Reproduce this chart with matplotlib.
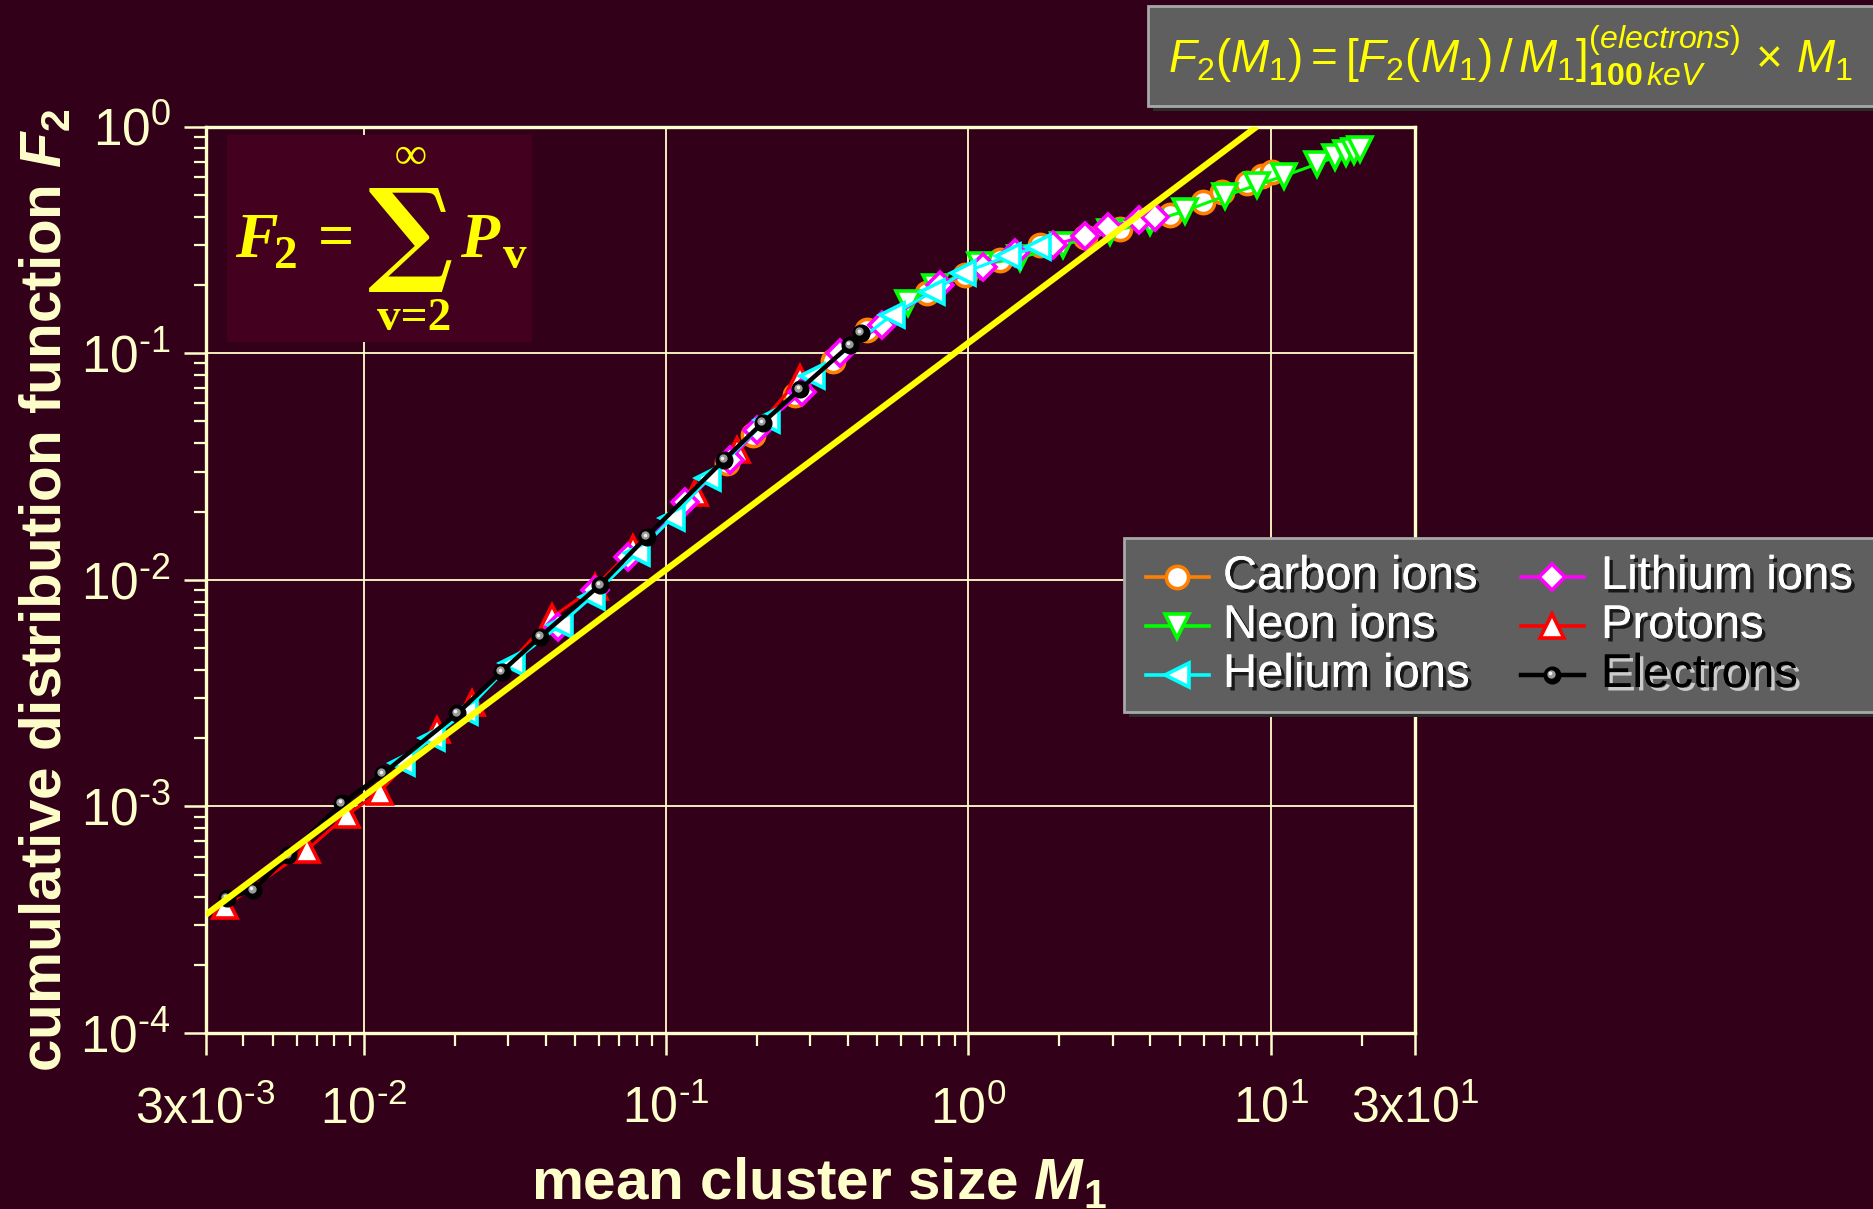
import matplotlib
matplotlib.use("Agg")
import matplotlib.pyplot as plt
import matplotlib.patheffects as pe
from matplotlib.patches import Rectangle
from matplotlib.transforms import offset_copy
from matplotlib.ticker import LogLocator, NullFormatter
import numpy as np

BG = "#33001A"
INSET_BG = "#44001F"
CREAM = "#FFFFCC"
YELLOW = "#FFFF00"
BOX = "#5F5F5F"

plt.rcParams["font.family"] = ["Liberation Sans", "DejaVu Sans"]
plt.rcParams["mathtext.fontset"] = "custom"
plt.rcParams["mathtext.rm"] = "Liberation Sans"
plt.rcParams["mathtext.it"] = "Liberation Sans:italic"
plt.rcParams["mathtext.bf"] = "Liberation Sans:bold"
plt.rcParams["mathtext.bfit"] = "Liberation Sans:italic:bold"

# F2 vs M1 for the different radiation qualities
carbon_x = [0.159, 0.194, 0.267, 0.357, 0.462, 0.730, 0.974, 1.272, 1.725, 2.43, 3.17, 4.64, 5.97, 6.90, 8.35, 9.36, 10.1]
carbon_y = [0.0327, 0.0435, 0.0653, 0.0923, 0.1264, 0.1841, 0.2212, 0.2576, 0.2999, 0.3254, 0.3529, 0.4069, 0.4642, 0.514, 0.563, 0.6047, 0.63]

neon_x = [0.631, 0.775, 1.092, 1.48, 2.054, 2.938, 3.985, 5.20, 7.056, 9.00, 11.06, 14.22, 16.31, 17.73, 18.84, 19.72]
neon_y = [0.1664, 0.1957, 0.2447, 0.2629, 0.2999, 0.3423, 0.379, 0.4238, 0.4935, 0.5518, 0.6047, 0.683, 0.7334, 0.764, 0.78, 0.7957]

protons_x = [3.48e-3, 6.48e-3, 8.79e-3, 1.132e-2, 1.743e-2, 2.28e-2, 4.20e-2, 5.82e-2, 7.78e-2, 0.1247, 0.1717, 0.277]
protons_y = [3.63e-4, 6.41e-4, 9.15e-4, 1.16e-3, 2.17e-3, 2.85e-3, 6.84e-3, 9.29e-3, 1.38e-2, 2.41e-2, 3.74e-2, 7.76e-2]

lithium_x = [4.39e-2, 5.82e-2, 7.48e-2, 0.1155, 0.1627, 0.1999, 0.2816, 0.376, 0.518, 0.805, 1.117, 1.426, 1.905, 2.43, 2.895, 3.666, 4.14]
lithium_y = [6.18e-3, 9.01e-3, 1.26e-2, 2.20e-2, 3.375e-2, 4.58e-2, 6.73e-2, 0.1001, 0.133, 0.1998, 0.2399, 0.2765, 0.2999, 0.3287, 0.36, 0.3867, 0.3987]

helium_x = [1.335e-2, 1.679e-2, 2.163e-2, 3.087e-2, 4.46e-2, 5.68e-2, 8.0e-2, 0.1044, 0.1379, 0.2152, 0.304, 0.559, 0.758, 0.959, 1.352, 1.699]
helium_y = [1.548e-3, 1.995e-3, 2.615e-3, 4.28e-3, 6.31e-3, 8.41e-3, 1.307e-2, 1.866e-2, 2.80e-2, 5.07e-2, 7.92e-2, 0.1473, 0.186, 0.2257, 0.2683, 0.2939]

electrons_x = [3.52e-3, 4.31e-3, 5.63e-3, 8.46e-3, 1.156e-2, 2.04e-2, 2.86e-2, 3.83e-2, 6.05e-2, 8.63e-2, 0.1555, 0.2088, 0.2773, 0.406, 0.441]
electrons_y = [3.93e-4, 4.27e-4, 6.10e-4, 1.03e-3, 1.39e-3, 2.57e-3, 3.93e-3, 5.60e-3, 9.48e-3, 1.55e-2, 3.38e-2, 4.93e-2, 6.92e-2, 0.1086, 0.1227]

# scaling line F2 = [F2/M1]_electrons(100 keV) * M1
ref_x = [3.0e-3, 9.0]
ref_y = [3.32e-4, 1.0]

HY = "\u2010"  # short hyphen in the exponents
x_ticks = [3e-3, 1e-2, 1e-1, 1e0, 1e1, 3e1]
x_ticklabels = [r"$\mathregular{3x10^{" + HY + "3}}$", r"$\mathregular{10^{" + HY + "2}}$",
                r"$\mathregular{10^{" + HY + "1}}$", r"$\mathregular{10^{0}}$",
                r"$\mathregular{10^{1}}$", r"$\mathregular{3x10^{1}}$"]
y_ticks = [1e-4, 1e-3, 1e-2, 1e-1, 1e0]
y_ticklabels = [r"$\mathregular{10^{" + HY + "4}}$", r"$\mathregular{10^{" + HY + "3}}$",
                r"$\mathregular{10^{" + HY + "2}}$", r"$\mathregular{10^{" + HY + "1}}$",
                r"$\mathregular{10^{0}}$"]

# label, x, y, marker, colour, markersize, zorder
series = [
    ("Carbon ions",  carbon_x,  carbon_y,  "o", "#FF8000", 16.0, 3),
    ("Neon ions",    neon_x,    neon_y,    "v", "#00FF00", 17.0, 4),
    ("Protons",      protons_x, protons_y, "^", "#FF0000", 17.0, 5),
    ("Lithium ions", lithium_x, lithium_y, "D", "#FF00FF", 13.5, 6),
    ("Helium ions",  helium_x,  helium_y,  "<", "#00FFFF", 17.0, 7),
]

W, H = 1874, 1209
fig = plt.figure(figsize=(W / 100, H / 100), dpi=100, facecolor=BG)
ax = fig.add_axes([205.6 / W, 1 - 1033 / H, (1415 - 205.6) / W, (1033 - 126.5) / H])
ax.set_facecolor(BG)
ax.set_xscale("log")
ax.set_yscale("log")
ax.set_xlim(3e-3, 30)
ax.set_ylim(1e-4, 1)

ax.set_xticks(x_ticks)
ax.set_xticklabels(x_ticklabels)
ax.set_yticks(y_ticks)
ax.set_yticklabels(y_ticklabels)
ax.xaxis.set_minor_locator(LogLocator(base=10, subs=np.arange(2, 10), numticks=50))
ax.yaxis.set_minor_locator(LogLocator(base=10, subs=np.arange(2, 10), numticks=50))
ax.xaxis.set_minor_formatter(NullFormatter())
ax.yaxis.set_minor_formatter(NullFormatter())
ax.tick_params(which="major", direction="out", length=16, width=1.8, color=CREAM,
               labelcolor=CREAM)
ax.tick_params(axis="x", which="major", pad=22, labelsize=36)
ax.tick_params(axis="y", which="major", pad=9, labelsize=37)
ax.tick_params(which="minor", direction="out", length=9, width=1.6, color=CREAM)
for sp in ax.spines.values():
    sp.set_color(CREAM)
    sp.set_linewidth(2.4)
ax.set_axisbelow(True)
ax.grid(True, which="major", color=CREAM, linewidth=1.3)

for label, xs, ys, mk, col, ms, z in series:
    ax.plot(xs, ys, color=col, lw=2.2, marker=mk, ms=ms, mfc="white",
            mec=col, mew=2.6, zorder=z)

# electrons as shaded black balls
ax.plot(electrons_x, electrons_y, color="black", lw=3.2, marker="o", ms=12,
        mfc="black", mec="black", zorder=8)
hl = offset_copy(ax.transData, fig=fig, x=-1.5, y=1.5, units="dots")
ax.plot(electrons_x, electrons_y, ls="none", marker="o", ms=6, mfc="#9A9A9A",
        mec="none", transform=hl, zorder=8.1)
hl2 = offset_copy(ax.transData, fig=fig, x=-2.0, y=2.0, units="dots")
ax.plot(electrons_x, electrons_y, ls="none", marker="o", ms=2.6, mfc="#EEEEEE",
        mec="none", transform=hl2, zorder=8.2)

ax.plot(ref_x, ref_y, color=YELLOW, lw=4.5, solid_capstyle="butt", zorder=9)

# overlay in pixel coordinates for boxes, labels and legend
ov = fig.add_axes([0, 0, 1, 1])
ov.set_xlim(0, W)
ov.set_ylim(H, 0)
ov.axis("off")

ov.text(61, 590, r"cumulative distribution function $\mathbfit{F}_\mathbf{2}$",
        rotation=90, rotation_mode="anchor", ha="center", va="baseline",
        fontsize=42, fontweight="bold", color=CREAM)
ov.text(819, 1199, r"mean cluster size $\mathbfit{M}_\mathbf{1}$",
        ha="center", va="baseline", fontsize=42, fontweight="bold", color=CREAM)

# formula box top right
ov.add_patch(Rectangle((1153, 11), 730, 100, fc="#2C2C2C", ec="none"))
ov.add_patch(Rectangle((1148, 6), 730, 100, fc=BOX, ec="#A8A8A8", lw=2))
ov.text(1511, 73,
        r"$F_2(M_1) = [F_2(M_1)\,/\,M_1]^{(electrons)}_{\mathbf{100}\,keV}\,\times\,M_1$",
        ha="center", va="baseline", fontsize=33, color=YELLOW)

# inset with the definition of F2
ov.add_patch(Rectangle((227, 135), 305, 207, fc=INSET_BG, ec="none"))
serif = ["Liberation Serif", "DejaVu Serif"]
ov.text(235, 257, "F", family=serif, style="italic", weight="bold", fontsize=46,
        color=YELLOW, ha="left", va="baseline")
ov.text(274, 268, "2", family=serif, weight="bold", fontsize=34,
        color=YELLOW, ha="left", va="baseline")
ov.text(336, 257, "=", family=serif, weight="bold", fontsize=46,
        color=YELLOW, ha="center", va="baseline")
ov.text(411, 239, "\u2211", family=["DejaVu Serif"], fontsize=82, weight="bold",
        color=YELLOW, ha="center", va="center")
ov.text(411, 157, "\u221e", family=serif, weight="bold", fontsize=32,
        color=YELLOW, ha="center", va="center")
ov.text(414, 330, "v=2", family=serif, weight="bold", fontsize=34,
        color=YELLOW, ha="center", va="baseline")
ov.text(460, 257, "P", family=serif, style="italic", weight="bold", fontsize=46,
        color=YELLOW, ha="left", va="baseline")
ov.text(503, 268, "v", family=serif, weight="bold", fontsize=34,
        color=YELLOW, ha="left", va="baseline")

# legend
ov.add_patch(Rectangle((1129, 543), 760, 174, fc="#2C2C2C", ec="none"))
ov.add_patch(Rectangle((1124, 538), 760, 174, fc=BOX, ec="#A8A8A8", lw=2))
styles = {s[0]: s for s in series}
order = ["Carbon ions", "Neon ions", "Helium ions", "Lithium ions", "Protons", "Electrons"]
rows_y = [577, 626, 675]
cols = [(1146, 1209, 1223), (1521, 1584, 1601)]
dark_shadow = [pe.withSimplePatchShadow(offset=(2.5, -2.5), shadow_rgbFace="black", alpha=0.75),
               pe.Normal()]
light_shadow = [pe.withSimplePatchShadow(offset=(2.5, -2.5), shadow_rgbFace="#D8D8D8", alpha=0.9),
                pe.Normal()]
for i, name in enumerate(order):
    x0, x1, xt = cols[i // 3]
    yr = rows_y[i % 3]
    xm = (x0 + x1) / 2
    if name == "Electrons":
        ov.plot([x0, x1], [yr, yr], color="black", lw=3.2)
        ov.plot([xm], [yr], marker="o", ms=12, mfc="black", mec="black")
        ov.plot([xm], [yr], marker="o", ms=6, mfc="#9A9A9A", mec="none",
                transform=offset_copy(ov.transData, fig=fig, x=-1.5, y=1.5, units="dots"))
        ov.plot([xm], [yr], marker="o", ms=2.6, mfc="#EEEEEE", mec="none",
                transform=offset_copy(ov.transData, fig=fig, x=-2.0, y=2.0, units="dots"))
        ov.text(xt, yr, name, fontsize=34, color="black", ha="left", va="center",
                path_effects=light_shadow)
    else:
        _, _, _, mk, col, ms, _ = styles[name]
        ov.plot([x0, x1], [yr, yr], color=col, lw=2.6)
        ov.plot([xm], [yr], marker=mk, ms=ms, mfc="white", mec=col, mew=2.6)
        ov.text(xt, yr, name, fontsize=34, color="white", ha="left", va="center",
                path_effects=dark_shadow)

fig.savefig("out.png", dpi=100, facecolor=BG)
